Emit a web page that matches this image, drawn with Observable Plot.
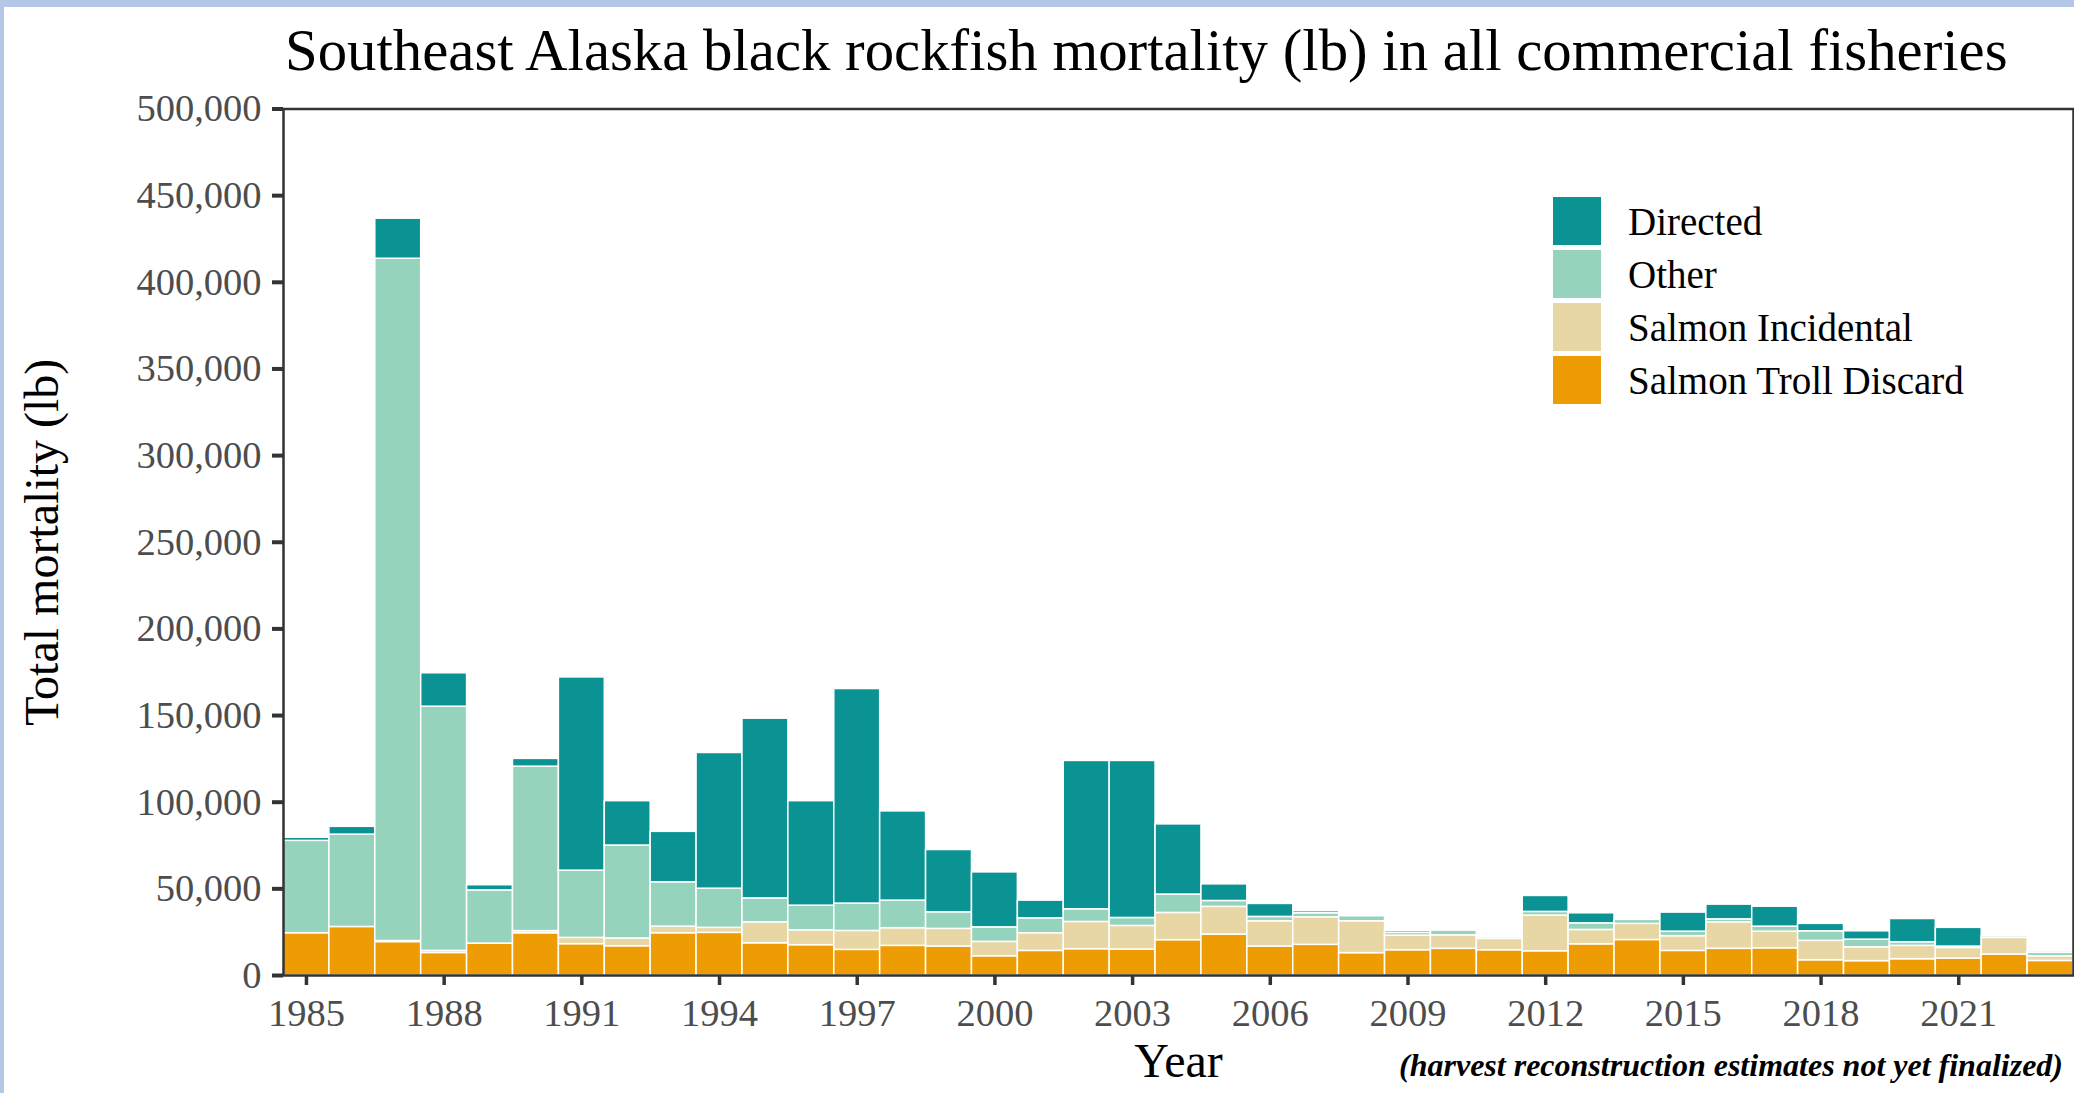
<!DOCTYPE html>
<html>
<head>
<meta charset="utf-8">
<script src="https://cdn.jsdelivr.net/npm/d3@7"></script>
<script src="https://cdn.jsdelivr.net/npm/@observablehq/plot@0.6"></script>
<style>
  html, body { margin: 0; padding: 0; background: #b4c7e7; width: 2074px; height: 1093px; overflow: hidden; }
  #page { position: absolute; left: 4px; top: 7px; width: 2070px; height: 1086px; background: #ffffff; overflow: hidden; font-family: 'Liberation Serif', 'Times New Roman', serif; }
  #title { position: absolute; left: 281px; top: 15px; font-size: 58.8px; line-height: 58px; white-space: nowrap; color: #000; }
  #chart { position: absolute; left: 0; top: 80px; }
  #chart svg g[aria-label="y-axis label"], #chart svg g[aria-label="x-axis label"] { font-size: 48px; fill: #000; }
  #legend { position: absolute; left: 1549px; top: 190px; }
  .item { display: flex; align-items: center; height: 48px; margin-bottom: 5px; }
  .key { width: 48px; height: 48px; }
  .lab { margin-left: 27px; font-size: 39px; color: #000; white-space: nowrap; }
  #caption { position: absolute; right: 11px; top: 1042px; font-size: 32px; line-height: 32px; font-style: italic; font-weight: bold; white-space: nowrap; color: #000; }
</style>
</head>
<body>
<div id="page">
  <div id="title">Southeast Alaska black rockfish mortality (lb) in all commercial fisheries</div>
  <div id="chart"></div>
  <div id="legend"></div>
  <div id="caption">(harvest reconstruction estimates not yet finalized)</div>
</div>
<script>
// ---- data ----
const years = [1985, 1986, 1987, 1988, 1989, 1990, 1991, 1992, 1993, 1994,
               1995, 1996, 1997, 1998, 1999, 2000, 2001, 2002, 2003, 2004,
               2005, 2006, 2007, 2008, 2009, 2010, 2011, 2012, 2013, 2014,
               2015, 2016, 2017, 2018, 2019, 2020, 2021, 2022, 2023];
const categories = ["Directed", "Other", "Salmon Incidental", "Salmon Troll Discard"];
const colors = ["#0b9394", "#96d3bd", "#e8d6a5", "#ee9c03"];
const stackOrder = ["Salmon Troll Discard", "Salmon Incidental", "Other", "Directed"];

const directed = [1800, 4500, 23100, 19300, 3000, 4500, 111500, 25600, 29100, 78300,
                  103700, 60300, 123800, 51500, 35900, 31700, 10200, 85600, 90600, 40500,
                  9600, 7500, 1200, 0, 1100, 0, 600, 9200, 5800, 0,
                  11000, 8500, 11500, 4300, 4800, 13400, 10800, 0, 900];
const other = [53300, 53300, 393700, 140900, 30700, 94900, 38800, 53600, 25600, 22600,
               13800, 14200, 15800, 15900, 9600, 8400, 8600, 7300, 4600, 10600,
               3400, 2500, 2300, 2900, 1600, 2700, 1000, 2100, 3800, 2300,
               2600, 1700, 2900, 5500, 4400, 2100, 800, 1000, 2000];
const incidental = [0, 0, 600, 1200, 0, 1200, 3600, 4500, 3800, 2900,
                    12100, 8600, 10900, 10200, 10200, 8300, 10200, 15700, 13600, 15700,
                    16000, 14600, 15900, 18400, 8400, 7800, 6500, 20600, 8300, 9300,
                    8500, 15300, 9600, 11200, 8000, 7700, 6100, 9600, 2700];
const troll = [24400, 28000, 19300, 13000, 18400, 24400, 18100, 16900, 24400, 24600,
               18600, 17500, 14800, 17100, 16700, 11100, 14200, 15200, 15000, 20400,
               23600, 16700, 17700, 12900, 14600, 15400, 14600, 14000, 18000, 20500,
               14200, 15400, 15700, 8800, 8300, 9400, 9800, 12100, 8400];

const xTicks = [1985, 1988, 1991, 1994, 1997, 2000, 2003, 2006, 2009, 2012, 2015, 2018, 2021];
const yTicks = [0, 50000, 100000, 150000, 200000, 250000, 300000, 350000, 400000, 450000, 500000];

const series = {"Directed": directed, "Other": other, "Salmon Incidental": incidental, "Salmon Troll Discard": troll};
const rows = years.flatMap((year, i) => stackOrder.map(category => ({year, category, value: series[category][i]})));

const chart = Plot.plot({
  width: 2070,
  height: 1006,
  marginLeft: 279,
  marginRight: 1,
  marginTop: 21.5,
  marginBottom: 118,
  style: {fontFamily: "'Liberation Serif', 'Times New Roman', serif", fontSize: "38.5px", background: "transparent", overflow: "visible"},
  x: {domain: [1984.5, 2023.5]},
  y: {domain: [0, 500000]},
  color: {domain: categories, range: colors},
  marks: [
    Plot.rectY(rows, {
      x1: d => d.year - 0.5,
      x2: d => d.year + 0.5,
      y: "value",
      fill: "category",
      stroke: "white",
      strokeWidth: 1.5,
      order: stackOrder
    }),
    Plot.frame({stroke: "#333333", strokeWidth: 2.5}),
    Plot.axisY({
      ticks: yTicks, tickFormat: d3.format(","), tickSize: 11, tickPadding: 11,
      stroke: "#333333", strokeWidth: 4, fill: "#4d4d4d",
      label: "Total mortality (lb)", labelAnchor: "center", labelOffset: 260, labelArrow: "none"
    }),
    Plot.axisX({
      ticks: xTicks, tickFormat: d => String(d), tickSize: 10, tickPadding: 13,
      stroke: "#333333", strokeWidth: 3.5, fill: "#4d4d4d",
      label: "Year", labelAnchor: "center", labelOffset: 101, labelArrow: "none"
    })
  ]
});
document.getElementById("chart").appendChild(chart);

// legend built from the same categories / colours
const legend = document.getElementById("legend");
categories.forEach((c, i) => {
  const item = document.createElement("div");
  item.className = "item";
  const key = document.createElement("div");
  key.className = "key";
  key.style.background = colors[i];
  const lab = document.createElement("div");
  lab.className = "lab";
  lab.textContent = c;
  item.appendChild(key);
  item.appendChild(lab);
  legend.appendChild(item);
});
</script>
</body>
</html>
